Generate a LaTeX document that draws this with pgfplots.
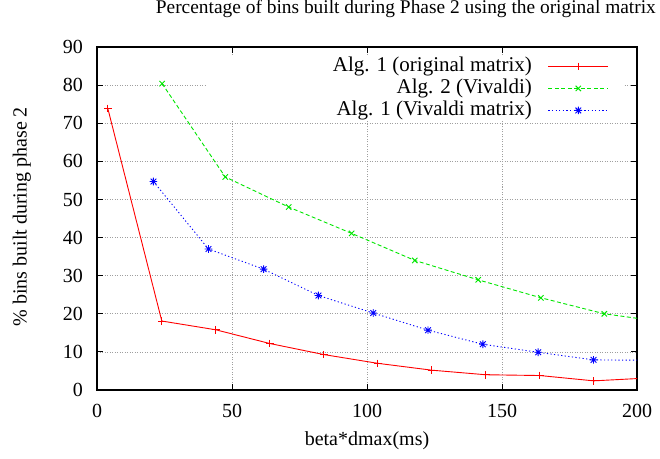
\documentclass[border=0pt]{standalone}
\usepackage{fontspec}
\setmainfont{Liberation Serif}
\usepackage{pgfplots}
\pgfplotsset{compat=1.18}

% gnuplot point type 3: a + laid over an x
\pgfdeclareplotmark{plusx}{%
  \pgfpathmoveto{\pgfqpoint{-\pgfplotmarksize}{0pt}}%
  \pgfpathlineto{\pgfqpoint{\pgfplotmarksize}{0pt}}%
  \pgfpathmoveto{\pgfqpoint{0pt}{-\pgfplotmarksize}}%
  \pgfpathlineto{\pgfqpoint{0pt}{\pgfplotmarksize}}%
  \pgfpathmoveto{\pgfqpoint{-0.75\pgfplotmarksize}{-0.75\pgfplotmarksize}}%
  \pgfpathlineto{\pgfqpoint{0.75\pgfplotmarksize}{0.75\pgfplotmarksize}}%
  \pgfpathmoveto{\pgfqpoint{-0.75\pgfplotmarksize}{0.75\pgfplotmarksize}}%
  \pgfpathlineto{\pgfqpoint{0.75\pgfplotmarksize}{-0.75\pgfplotmarksize}}%
  \pgfusepathqstroke}

\definecolor{gpred}{RGB}{255,0,0}
\definecolor{gpgreen}{RGB}{0,230,0}
\definecolor{gpblue}{RGB}{0,0,255}

\begin{document}
\begin{tikzpicture}[font=\fontsize{20}{23}\selectfont]
\path[use as bounding box] (-97pt,-68pt) rectangle (563pt,390pt);
\begin{axis}[
    at={(0pt,0pt)}, anchor=south west,
    scale only axis,
    width=540pt, height=343pt,
    xmin=0, xmax=200, ymin=0, ymax=90,
    xtick={0,50,...,200}, ytick={0,10,...,90},
    /pgf/number format/assume math mode=true,
    tick align=inside, major tick length=6pt,
    tick style={black, line width=0.8pt},
    axis line style={black, line width=1.2pt},
    grid=major,
    major grid style={gray!75, line width=0.7pt, dash pattern=on 1pt off 1.5pt},
    xticklabel style={anchor=north, inner sep=0pt, yshift=-14pt},
    yticklabel style={anchor=east, inner sep=0pt, xshift=-14pt},
    title={Percentage of bins built during Phase 2 using the original matrix},
    title style={at={(axis description cs:0.572,1.079)}, anchor=base, inner sep=0pt,
        font=\fontsize{19.4}{22}\selectfont},
    xlabel={beta*dmax(ms)},
    xlabel style={at={(axis description cs:0.5,-0.149)}, anchor=center, inner sep=0pt},
    ylabel={\% bins built during phase 2},
    ylabel style={at={(axis description cs:-0.139,0.505)}, anchor=center, inner sep=0pt},
    legend plot pos=right,
    legend cell align=right,
    legend style={at={(axis description cs:0.974,0.976)}, anchor=north east,
        fill=white, draw=none, inner xsep=14pt, inner ysep=0pt,
        column sep=16pt, row sep=0pt,
        font=\fontsize{21}{24}\selectfont,
        nodes={inner sep=0pt, text height=16pt, text depth=6pt}},
    legend image code/.code={%
        \draw[mark repeat=2, mark phase=2] plot coordinates {(0pt,0pt) (30pt,0pt) (60pt,0pt)};},
    mark size=3.8pt,
]
\addplot[gpred, line width=0.9pt, mark=+, mark options={solid}] coordinates {
    (4,73.9) (24,18.1) (44,15.8) (64,12.2) (84,9.3) (104,7.0)
    (124,5.2) (144,4.0) (164,3.8) (184,2.4) (204,3.15)
};
\addlegendentry{\makebox[311pt][r]{Alg. 1 (original matrix)}}
\addplot[gpgreen, line width=0.9pt, dash pattern=on 4pt off 2.5pt, mark=x, mark options={solid}] coordinates {
    (24.1,80.4) (47.5,55.9) (71,48.0) (94.3,41.1) (117.7,34.0)
    (141.2,28.9) (164.4,24.2) (187.9,20.0) (211.4,17.7)
};
\addlegendentry{Alg. 2 (Vivaldi)}
\addplot[gpblue, line width=0.9pt, dash pattern=on 1.2pt off 2.4pt, mark=plusx, mark options={solid}] coordinates {
    (20.9,54.7) (41.3,37.0) (61.7,31.7) (82,24.8) (102.3,20.2)
    (122.6,15.7) (142.9,12.0) (163.4,9.9) (183.9,7.9) (204.3,7.8)
};
\addlegendentry{Alg. 1 (Vivaldi matrix)}
\end{axis}
\end{tikzpicture}
\end{document}
